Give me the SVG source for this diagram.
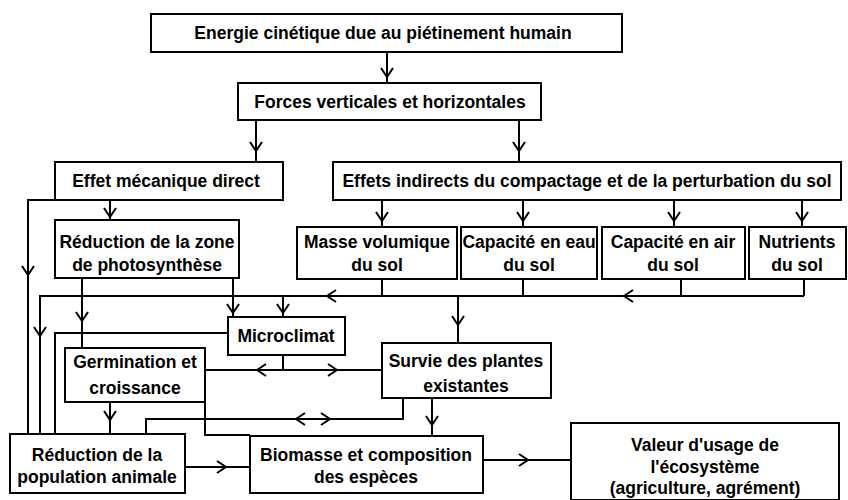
<svg xmlns="http://www.w3.org/2000/svg" xmlns:xlink="http://www.w3.org/1999/xlink" width="848" height="500" viewBox="0 0 848 500">
<style>
.box{fill:#fff;stroke:#000;stroke-width:2}
.ln{fill:none;stroke:#000;stroke-width:2}
text{font-family:"Liberation Sans",Arial,sans-serif;font-weight:bold;font-size:17.5px;fill:#000;text-anchor:middle}
</style>
<defs>
<path id="chev" d="M-6,-9 L0,0 L6,-9" fill="none" stroke="#000" stroke-width="2"/>
</defs>
<g id="connectors">
<path class="ln" d="M387,52V83"/>
<path class="ln" d="M256,120V162"/>
<path class="ln" d="M519,120V162"/>
<path class="ln" d="M382,200V227M523,200V227M674,200V227M802,200V227"/>
<path class="ln" d="M110,200V220"/>
<path class="ln" d="M55,200H28V434"/>
<path class="ln" d="M382,279V296M523,279V296M681,279V296M804,279V296M804,296H40V434"/>
<path class="ln" d="M228,333H55V434"/>
<path class="ln" d="M82,278V348"/>
<path class="ln" d="M233,278V317"/>
<path class="ln" d="M283,296V317"/>
<path class="ln" d="M458,296V343"/>
<path class="ln" d="M283,355V370M205,370H382"/>
<path class="ln" d="M110,402V434"/>
<path class="ln" d="M146,434V419H403V398"/>
<path class="ln" d="M205,402V435H250"/>
<path class="ln" d="M432,398V436"/>
<path class="ln" d="M185,467H250"/>
<path class="ln" d="M483,460H571"/>
<use xlink:href="#chev" transform="translate(387,77)"/>
<use xlink:href="#chev" transform="translate(256,151)"/>
<use xlink:href="#chev" transform="translate(519,151)"/>
<use xlink:href="#chev" transform="translate(382,221)"/>
<use xlink:href="#chev" transform="translate(523,221)"/>
<use xlink:href="#chev" transform="translate(674,221)"/>
<use xlink:href="#chev" transform="translate(802,221)"/>
<use xlink:href="#chev" transform="translate(110,217)"/>
<use xlink:href="#chev" transform="translate(28,275)"/>
<use xlink:href="#chev" transform="translate(40,336)"/>
<use xlink:href="#chev" transform="translate(82,321)"/>
<use xlink:href="#chev" transform="translate(233,313)"/>
<use xlink:href="#chev" transform="translate(283,313)"/>
<use xlink:href="#chev" transform="translate(327,296) rotate(90)"/>
<use xlink:href="#chev" transform="translate(624,296) rotate(90)"/>
<use xlink:href="#chev" transform="translate(458,325)"/>
<use xlink:href="#chev" transform="translate(257,370) rotate(90)"/>
<use xlink:href="#chev" transform="translate(337,370) rotate(-90)"/>
<use xlink:href="#chev" transform="translate(110,420)"/>
<use xlink:href="#chev" transform="translate(296,419) rotate(90)"/>
<use xlink:href="#chev" transform="translate(330,419) rotate(-90)"/>
<use xlink:href="#chev" transform="translate(432,425)"/>
<use xlink:href="#chev" transform="translate(226,467) rotate(-90)"/>
<use xlink:href="#chev" transform="translate(528,460) rotate(-90)"/>
</g>
<g id="n1"><rect class="box" x="151" y="14" width="471" height="38"/><text x="383" y="39">Energie cinétique due au piétinement humain</text></g>
<g id="n2"><rect class="box" x="238" y="83" width="303" height="37"/><text x="390" y="108">Forces verticales et horizontales</text></g>
<g id="n3"><rect class="box" x="55" y="162" width="228" height="38"/><text x="166" y="187">Effet mécanique direct</text></g>
<g id="n4"><rect class="box" x="333" y="162" width="508" height="38"/><text x="587" y="187">Effets indirects du compactage et de la perturbation du sol</text></g>
<g id="n5"><rect class="box" x="55" y="220" width="184" height="58"/><text x="147" y="248">Réduction de la zone</text><text x="147" y="271">de photosynthèse</text></g>
<g id="n6"><rect class="box" x="297" y="227" width="160" height="52"/><text x="377" y="248">Masse volumique</text><text x="377" y="271">du sol</text></g>
<g id="n7"><rect class="box" x="461" y="227" width="136" height="52"/><text x="529" y="248">Capacité en eau</text><text x="529" y="271">du sol</text></g>
<g id="n8"><rect class="box" x="602" y="227" width="143" height="52"/><text x="673" y="248">Capacité en air</text><text x="673" y="271">du sol</text></g>
<g id="n9"><rect class="box" x="749" y="227" width="97" height="52"/><text x="797" y="248">Nutrients</text><text x="797" y="271">du sol</text></g>
<g id="n10"><rect class="box" x="228" y="317" width="117" height="38"/><text x="286" y="342">Microclimat</text></g>
<g id="n11"><rect class="box" x="65" y="348" width="140" height="54"/><text x="135" y="368">Germination et</text><text x="135" y="394">croissance</text></g>
<g id="n12"><rect class="box" x="382" y="343" width="169" height="55"/><text x="466" y="367">Survie des plantes</text><text x="466" y="392">existantes</text></g>
<g id="n13"><rect class="box" x="10" y="434" width="175" height="59"/><text x="97" y="461">Réduction de la</text><text x="97" y="483">population animale</text></g>
<g id="n14"><rect class="box" x="250" y="436" width="233" height="57"/><text x="366" y="461">Biomasse et composition</text><text x="366" y="483">des espèces</text></g>
<g id="n15"><rect class="box" x="571" y="423" width="268" height="77"/><text x="705" y="451">Valeur d'usage de</text><text x="705" y="473">l'écosystème</text><text x="705" y="494">(agriculture, agrément)</text></g>
</svg>
